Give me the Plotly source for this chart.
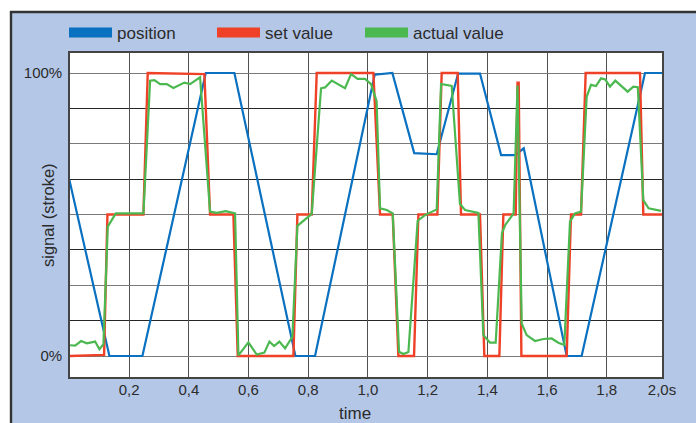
import plotly.graph_objects as go

# ---------------- data ----------------
pos_t = [0.0, 0.134, 0.2446, 0.4567, 0.5527, 0.757, 0.8228, 1.0225, 1.0818, 1.1550,
         1.2304, 1.3020, 1.3754, 1.4460, 1.4926, 1.5220, 1.6657, 1.7159, 1.9280, 1.985]
pos_v = [62.2, 0, 0, 100, 100, 0, 0, 99.4, 100, 71.7,
         71.3, 99.8, 99.8, 71.0, 71.0, 73.4, 0, 0, 100, 100]

set_t = [0.0, 0.1162, 0.1274, 0.2479, 0.2624, 0.4522, 0.4712, 0.5493, 0.5639, 0.7503,
         0.7637, 0.8117, 0.8284, 1.0182, 1.0406, 1.0830, 1.1020, 1.1544, 1.1690, 1.2326,
         1.2471, 1.3007, 1.3118, 1.3754, 1.3899, 1.4402, 1.4536, 1.4950, 1.5010, 1.5050,
         1.5140, 1.6657, 1.6802, 1.7137, 1.7293, 1.9113, 1.9224, 1.985]
set_v = [0, 0.4, 50, 50, 100, 99.6, 50, 50, 0, 0,
         50, 50, 100, 100, 50, 50, 0, 0, 50, 50,
         100, 100, 50, 50, 0, 0, 50, 50, 96.6, 96.6,
         0, 0, 50, 50, 100, 100, 50, 50]

act_t = [0.0023, 0.0191, 0.0392, 0.0582, 0.0861, 0.1006, 0.1140, 0.1285, 0.1553, 0.2479,
         0.2703, 0.2848, 0.3038, 0.3261, 0.3484, 0.3852, 0.4042, 0.4377, 0.4712, 0.4935,
         0.5237, 0.5549, 0.5661, 0.5996, 0.6275, 0.6531, 0.6700, 0.6856, 0.7035, 0.7224,
         0.7469, 0.7637, 0.8117, 0.8429, 0.8563, 0.8787, 0.9233, 0.9434, 0.9657, 0.9903,
         1.0104, 1.0290, 1.0406, 1.0630, 1.0830, 1.1042, 1.1188, 1.1355, 1.1666, 1.1912,
         1.2304, 1.2449, 1.2806, 1.3083, 1.3252, 1.3699, 1.3866, 1.4089, 1.4279, 1.4490,
         1.4600, 1.4880, 1.5010, 1.5150, 1.5317, 1.5596, 1.5875, 1.6154, 1.6377, 1.6578,
         1.6768, 1.6936, 1.7137, 1.7327, 1.7472, 1.7639, 1.7807, 1.7950, 1.8108, 1.8286,
         1.8700, 1.8889, 1.9040, 1.9224, 1.9400, 1.9816]
act_v = [3.8, 3.7, 5.3, 4.5, 5.1, 2.4, 4.2, 45.7, 50.4, 50.4,
         97.3, 97.5, 96.1, 96.1, 94.7, 96.6, 96.1, 98.5, 51.0, 50.6,
         51.2, 50.4, 0.2, 4.8, 0.5, 1.2, 5.1, 3.5, 5.1, 2.7,
         6.8, 46.0, 50.2, 94.6, 94.9, 97.3, 94.6, 99.6, 97.9, 97.9,
         96.1, 90.0, 52.2, 51.6, 50.4, 1.5, 0.7, 1.4, 47.8, 49.8,
         51.8, 96.1, 95.4, 53.7, 51.6, 50.6, 7.4, 4.7, 4.7, 43.5,
         46.3, 50.4, 95.6, 11.5, 7.4, 5.3, 6.0, 6.2, 4.7, 3.9,
         47.5, 50.4, 51.0, 91.6, 95.8, 95.4, 98.1, 97.7, 95.2, 97.3,
         93.4, 95.2, 95.0, 55.1, 52.2, 51.3]

x_tickvals = [0.2, 0.4, 0.6, 0.8, 1.0, 1.2, 1.4, 1.6, 1.8, 1.985]
x_ticktext = ["0,2", "0,4", "0,6", "0,8", "1,0", "1,2", "1,4", "1,6", "1,8", "2,0s"]
y_major = [0, 25, 50, 75, 100]
y_major_text = ["0%", "", "", "", "100%"]
y_minor = [12.5, 37.5, 62.5, 87.5]

series_names = ["position", "set value", "actual value"]
# ---------------------------------------------------------------

BLUE = "#0a70c0"
RED = "#ee4127"
GREEN = "#4cb850"
PANEL = "#b4c7e7"
TXT = "#2b2b2b"
FONT = "Liberation Sans, Arial, Helvetica, sans-serif"

W, H = 696, 423
L, R, T, B = 70, 34, 53, 46
PW, PH = W - L - R, H - T - B


def px(xp):
    return (xp - L) / PW


def py(yp):
    return (H - B - yp) / PH


fig = go.Figure()
fig.add_trace(go.Scatter(x=pos_t, y=pos_v, mode="lines", name=series_names[0],
                         line=dict(color=BLUE, width=2.2), showlegend=False))
fig.add_trace(go.Scatter(x=set_t, y=set_v, mode="lines", name=series_names[1],
                         line=dict(color=RED, width=2.4), showlegend=False))
fig.add_trace(go.Scatter(x=act_t, y=act_v, mode="lines", name=series_names[2],
                         line=dict(color=GREEN, width=2.2), showlegend=False))
for nm, col in zip(series_names, [BLUE, RED, GREEN]):
    fig.add_trace(go.Scatter(x=[None], y=[None], mode="lines", name=nm,
                             line=dict(color=col, width=13), showlegend=True,
                             hoverinfo="skip"))

shapes = [
    # white strips outside the blue panel
    dict(type="rect", xref="paper", yref="paper", x0=px(-5), x1=px(W + 5), y0=py(11), y1=py(-5),
         fillcolor="white", line=dict(width=0), layer="above"),
    dict(type="rect", xref="paper", yref="paper", x0=px(-5), x1=px(10), y0=py(H + 5), y1=py(-5),
         fillcolor="white", line=dict(width=0), layer="above"),
    # dark frame lines
    dict(type="line", xref="paper", yref="paper", x0=px(10), x1=px(W + 5), y0=py(12), y1=py(12),
         line=dict(color="#333333", width=2.4), layer="above"),
    dict(type="line", xref="paper", yref="paper", x0=px(11), x1=px(11), y0=py(11), y1=py(H + 5),
         line=dict(color="#333333", width=2.4), layer="above"),
]

annotations = [
    dict(text="signal (stroke)", xref="paper", yref="paper", x=px(48), y=0.5,
         textangle=-90, showarrow=False, font=dict(size=16.5, color=TXT, family=FONT),
         xanchor="center", yanchor="middle"),
    dict(text="time", xref="paper", yref="paper", x=px(355), y=py(413),
         showarrow=False, font=dict(size=17, color=TXT, family=FONT),
         xanchor="center", yanchor="middle"),
]

fig.update_layout(
    width=W, height=H,
    margin=dict(l=L, r=R, t=T, b=B, pad=0, autoexpand=False),
    paper_bgcolor=PANEL, plot_bgcolor="white",
    font=dict(family=FONT, size=15, color=TXT),
    shapes=shapes, annotations=annotations,
    showlegend=True,
    legend=dict(orientation="h", x=px(64), y=py(33), xanchor="left", yanchor="middle",
                bgcolor="rgba(0,0,0,0)", font=dict(size=17, color=TXT, family=FONT),
                itemwidth=43, tracegroupgap=0, entrywidth=90, entrywidthmode="pixels",
                itemclick=False, itemdoubleclick=False),
    xaxis=dict(range=[0.002, 1.985], tickmode="array", tickvals=x_tickvals, ticktext=x_ticktext,
               showgrid=True, gridcolor="#505050", gridwidth=1, zeroline=False,
               showline=True, linecolor="#444444", linewidth=1.6, mirror=True,
               ticks="", ticklabelstandoff=-2,
               tickfont=dict(size=15, color=TXT, family=FONT), automargin=False, fixedrange=True),
    yaxis=dict(range=[-7.42, 107.07], tickmode="array", tickvals=y_major, ticktext=y_major_text,
               showgrid=True, gridcolor="#7a7a7a", gridwidth=1, zeroline=False,
               minor=dict(tickvals=y_minor, showgrid=True, gridcolor="#262626", gridwidth=1, ticks=""),
               showline=True, linecolor="#444444", linewidth=1.6, mirror=True,
               ticks="outside", ticklen=3, tickcolor="rgba(0,0,0,0)",
               tickfont=dict(size=15, color=TXT, family=FONT), automargin=False, fixedrange=True),
)

fig.write_html("out.html", config={"displayModeBar": False},
               post_script="document.body.style.margin='0';document.body.style.overflow='hidden';")
